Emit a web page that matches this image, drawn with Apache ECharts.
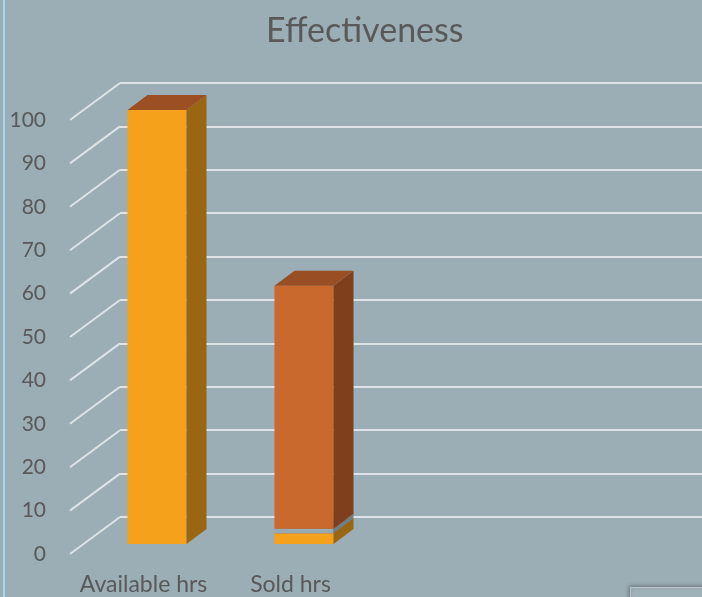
<!DOCTYPE html>
<html>
<head>
<meta charset="utf-8">
<script src="https://cdn.jsdelivr.net/npm/echarts@6/dist/echarts.min.js"></script>
<style>
html,body{margin:0;padding:0;background:#9badb5;}
#main{width:702px;height:597px;}
</style>
</head>
<body>
<div id="main"></div>
<script>
// ---- data ----
var categories = ['Available hrs', 'Sold hrs'];
var availableSeg = [100, 2.5];   // orange segment
var graySeg = [0, 1];            // thin gray segment
var soldSeg = [0, 56];           // dark orange segment
var yTicks = [0, 10, 20, 30, 40, 50, 60, 70, 80, 90, 100];

// ---- style constants ----
var BG = '#9badb5';
var TEXT = '#595959';
var GRID = '#dde3e6';
var DEPTH_X = 50, DEPTH_Y = -37;   // full floor depth
var BAR_OFF_X = 13.5, BAR_OFF_Y = -10; // bar front placement inside depth
var BAR_DX = 20, BAR_DY = -15;     // bar depth
var BAR_HALF = 29.5;

function stackBase(segIndex, cat) {
  var all = [availableSeg, graySeg, soldSeg];
  var s = 0;
  for (var i = 0; i < segIndex; i++) s += all[i][cat];
  return s;
}
function buildData(arr, segIndex) {
  return arr.map(function (v, i) { return [i, v, stackBase(segIndex, i)]; });
}

function boxRender(front, side, top) {
  return function (params, api) {
    var cat = api.value(0), v = api.value(1), base = api.value(2);
    if (!(v > 0)) return null;
    var pb = api.coord([cat, base]);
    var pt = api.coord([cat, base + v]);
    var cx = pb[0] + BAR_OFF_X;
    var yb = pb[1] + BAR_OFF_Y;
    var yt = pt[1] + BAR_OFF_Y;
    var x0 = cx - BAR_HALF, x1 = cx + BAR_HALF;
    return {
      type: 'group',
      children: [
        { type: 'rect', shape: { x: x0, y: yt, width: x1 - x0, height: yb - yt }, style: { fill: front } },
        { type: 'polygon', shape: { points: [[x1, yb], [x1 + BAR_DX, yb + BAR_DY], [x1 + BAR_DX, yt + BAR_DY], [x1, yt]] }, style: { fill: side } },
        { type: 'polygon', shape: { points: [[x0, yt], [x0 + BAR_DX, yt + BAR_DY], [x1 + BAR_DX, yt + BAR_DY], [x1, yt]] }, style: { fill: top } }
      ]
    };
  };
}

var chart = echarts.init(document.getElementById('main'), null, { renderer: 'canvas' });
var font = 'Lato, "Open Sans", sans-serif';

var option = {
  backgroundColor: BG,
  animation: false,
  title: {
    text: 'Effectiveness',
    left: 261,
    top: 9,
    textStyle: { color: TEXT, fontSize: 34, fontWeight: 'normal', fontFamily: font }
  },
  grid: [
    { left: 120, right: 0, top: 83, bottom: 80 },  // back wall
    { left: 70, width: 294, top: 120, bottom: 43 } // front plane
  ],
  xAxis: [
    { gridIndex: 0, type: 'value', show: false, min: 0, max: 1 },
    {
      gridIndex: 1, type: 'category', data: categories,
      axisLine: { show: false }, axisTick: { show: false },
      axisLabel: { color: TEXT, fontSize: 23, fontFamily: font, margin: 19, interval: 0 }
    }
  ],
  yAxis: [
    {
      gridIndex: 0, type: 'value', min: 0, max: 100, interval: 10,
      axisLine: { show: false }, axisTick: { show: false }, axisLabel: { show: false },
      splitLine: { show: true, lineStyle: { color: GRID, width: 2 } }
    },
    {
      gridIndex: 1, type: 'value', min: 0, max: 100, interval: 10,
      axisLine: { show: false }, axisTick: { show: false },
      splitLine: { show: false },
      axisLabel: { color: TEXT, fontSize: 21, fontFamily: font, margin: 24, padding: [10, 0, 0, 0] }
    }
  ],
  series: [
    {
      type: 'custom', xAxisIndex: 1, yAxisIndex: 1, clip: false, silent: true,
      data: yTicks.map(function (v) { return [0, v]; }),
      renderItem: function (params, api) {
        var p = api.coord([0, api.value(1)]);
        var left = p[0] - api.size([1, 0])[0] / 2;
        return {
          type: 'line',
          shape: { x1: left, y1: p[1], x2: left + DEPTH_X, y2: p[1] + DEPTH_Y },
          style: { stroke: GRID, lineWidth: 2 }
        };
      }
    },
    {
      name: 'Available', type: 'custom', xAxisIndex: 1, yAxisIndex: 1, clip: false,
      data: buildData(availableSeg, 0),
      renderItem: boxRender('#f6a11c', '#9a6612', '#9b4f22')
    },
    {
      name: 'Gap', type: 'custom', xAxisIndex: 1, yAxisIndex: 1, clip: false,
      data: buildData(graySeg, 1),
      renderItem: boxRender('#97aab2', '#6d8088', '#7f939b')
    },
    {
      name: 'Sold', type: 'custom', xAxisIndex: 1, yAxisIndex: 1, clip: false,
      data: buildData(soldSeg, 2),
      renderItem: boxRender('#c9692e', '#7f3f1c', '#9a4e23')
    }
  ],
  graphic: [
    { type: 'rect', left: 3, top: 0, shape: { width: 2, height: 597 }, style: { fill: '#a6d6ef' }, silent: true },
    { type: 'rect', left: 630, top: 587, shape: { width: 80, height: 20 },
      style: { fill: '#a0b2b9', stroke: '#b9c7cc', lineWidth: 1, shadowBlur: 4, shadowColor: 'rgba(0,0,0,0.35)', shadowOffsetX: -1, shadowOffsetY: -1 }, silent: true }
  ]
};
chart.setOption(option);
</script>
</body>
</html>
